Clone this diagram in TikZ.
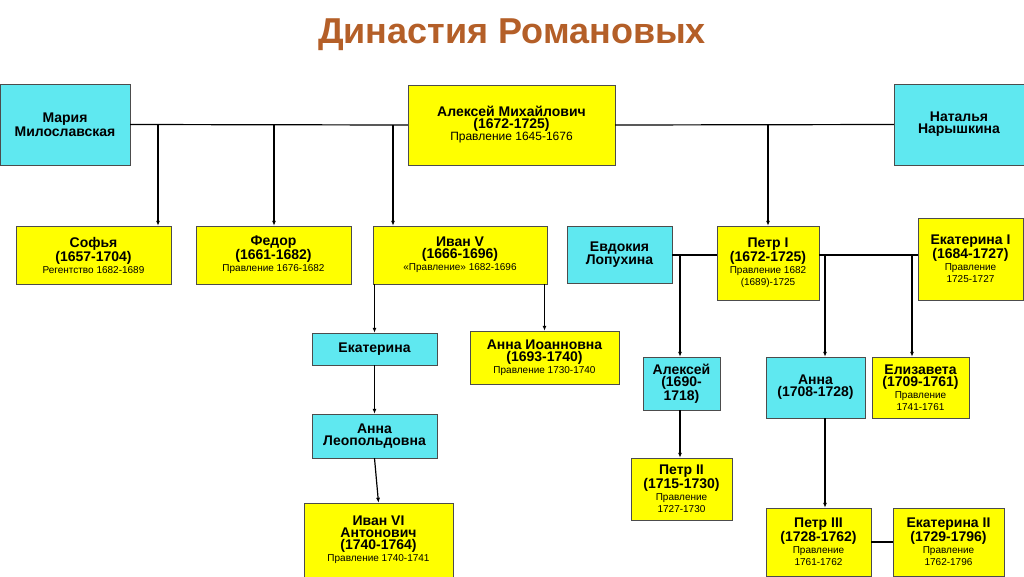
\documentclass[tikz,border=0pt]{standalone}
\usepackage{fontspec}
\setmainfont{Liberation Sans}
\usetikzlibrary{arrows.meta}
\definecolor{cyanbox}{RGB}{95,232,240}
\definecolor{yelbox}{RGB}{255,255,0}
\definecolor{titlebrown}{RGB}{180,95,40}
\newcommand{\nm}[1]{{\fontsize{14}{17}\selectfont\bfseries #1}}
\newcommand{\rg}[1]{{\fontsize{10}{12.5}\selectfont #1}}
\begin{document}
\begin{tikzpicture}[x=1pt,y=-1pt,
  yel/.style={draw=black!70,fill=yelbox,align=center,inner sep=0pt},
  cya/.style={draw=black!70,fill=cyanbox,align=center,inner sep=0pt},
  arr/.style={-{Latex[length=5pt,width=4pt]},line width=1.2pt},
  lnk/.style={line width=1.2pt}]
  \useasboundingbox[fill=white] (0,0) rectangle (1024,576);
  \node[text=titlebrown,font=\fontsize{36}{40}\selectfont\bfseries] (title) at (512,35) {Династия Романовых};

  % first generation
  \node[cya,minimum width=130,minimum height=81] (maria) at (65,124.5) {\nm{Мария}\\\nm{Милославская}};
  \node[yel,minimum width=207,minimum height=80] (aleksei) at (511.5,125) {\nm{Алексей Михайлович}\\\nm{(1672-1725)}\\{\fontsize{12}{15}\selectfont Правление 1645-1676}};
  \node[cya,minimum width=130,minimum height=81] (natalia) at (959,124.5) {\nm{Наталья}\\\nm{Нарышкина}};
  \draw[lnk] (maria.east) -- (aleksei.west);
  \draw[lnk] (aleksei.east) -- (natalia.west);

  % children
  \node[yel,minimum width=155,minimum height=58] (sofia) at (93.5,255) {\nm{Софья}\\\nm{(1657-1704)}\\\rg{Регентство 1682-1689}};
  \node[yel,minimum width=155,minimum height=58] (fedor) at (273.5,255) {\nm{Федор}\\\nm{(1661-1682)}\\\rg{Правление 1676-1682}};
  \node[yel,minimum width=174,minimum height=58] (ivan5) at (460,255) {\nm{Иван V}\\\nm{(1666-1696)}\\\rg{«Правление» 1682-1696}};
  \node[cya,minimum width=105,minimum height=57] (evdokia) at (619.5,254.5) {\nm{Евдокия}\\\nm{Лопухина}};
  \node[yel,minimum width=102,minimum height=74] (petr1) at (768,263) {\nm{Петр I}\\\nm{(1672-1725)}\\\rg{Правление 1682}\\\rg{(1689)-1725}};
  \node[yel,minimum width=105,minimum height=82] (ekat1) at (970.5,259) {\nm{Екатерина I}\\\nm{(1684-1727)}\\\rg{Правление}\\\rg{1725-1727}};
  \coordinate (s1) at (158,125);
  \coordinate (s2) at (274,125);
  \coordinate (s3) at (393,125);
  \draw[arr] (s1) -- (s1 |- sofia.north);
  \draw[arr] (s2) -- (s2 |- fedor.north);
  \draw[arr] (s3) -- (s3 |- ivan5.north);
  \draw[arr] (petr1.north |- aleksei.east) -- (petr1.north);
  \draw[lnk] (evdokia.east |- 0,255) -- (petr1.west |- 0,255);
  \draw[lnk] (petr1.east |- 0,255) -- (ekat1.west |- 0,255);

  % Ivan V line
  \node[cya,minimum width=125,minimum height=32] (ekat) at (374.5,349) {\nm{Екатерина}};
  \node[yel,minimum width=149,minimum height=53] (annaio) at (544.5,357.5) {\nm{Анна Иоанновна}\\\nm{(1693-1740)}\\\rg{Правление 1730-1740}};
  \node[cya,minimum width=125,minimum height=44] (annaleo) at (374.5,436) {\nm{Анна}\\\nm{Леопольдовна}};
  \node[yel,minimum width=149,minimum height=74] (ivan6) at (378.5,540) {\nm{Иван VI}\\\nm{Антонович}\\\nm{(1740-1764)}\\\rg{Правление 1740-1741}};
  \draw[arr] (ivan5.south -| ekat.north) -- (ekat.north);
  \draw[arr] (ivan5.south -| annaio.north) -- (annaio.north);
  \draw[arr] (ekat.south) -- (annaleo.north);
  \draw[arr] (annaleo.south) -- (ivan6.north);

  % Petr I line
  \node[cya,minimum width=77,minimum height=53] (alekseip) at (681.5,383.5) {\nm{Алексей}\\\nm{(1690-}\\\nm{1718)}};
  \node[yel,minimum width=101,minimum height=62] (petr2) at (681.5,489) {\nm{Петр II}\\\nm{(1715-1730)}\\\rg{Правление}\\\rg{1727-1730}};
  \node[cya,minimum width=99,minimum height=61] (anna) at (815.5,387.5) {\nm{Анна}\\\nm{(1708-1728)}};
  \node[yel,minimum width=97,minimum height=61] (elizaveta) at (920.5,387.5) {\nm{Елизавета}\\\nm{(1709-1761)}\\\rg{Правление}\\\rg{1741-1761}};
  \node[yel,minimum width=105,minimum height=68] (petr3) at (818.5,542) {\nm{Петр III}\\\nm{(1728-1762)}\\\rg{Правление}\\\rg{1761-1762}};
  \node[yel,minimum width=111,minimum height=68] (ekat2) at (948.5,542) {\nm{Екатерина II}\\\nm{(1729-1796)}\\\rg{Правление}\\\rg{1762-1796}};
  \coordinate (p1) at (680,255);
  \coordinate (p2) at (825,255);
  \coordinate (p3) at (912,255);
  \draw[arr] (p1) -- (p1 |- alekseip.north);
  \draw[arr] (p2) -- (p2 |- anna.north);
  \draw[arr] (p3) -- (p3 |- elizaveta.north);
  \draw[arr] (alekseip.south -| p1) -- (petr2.north -| p1);
  \draw[arr] (anna.south -| p2) -- (petr3.north -| p2);
  \draw[lnk] (petr3.east) -- (ekat2.west);
\end{tikzpicture}
\end{document}
